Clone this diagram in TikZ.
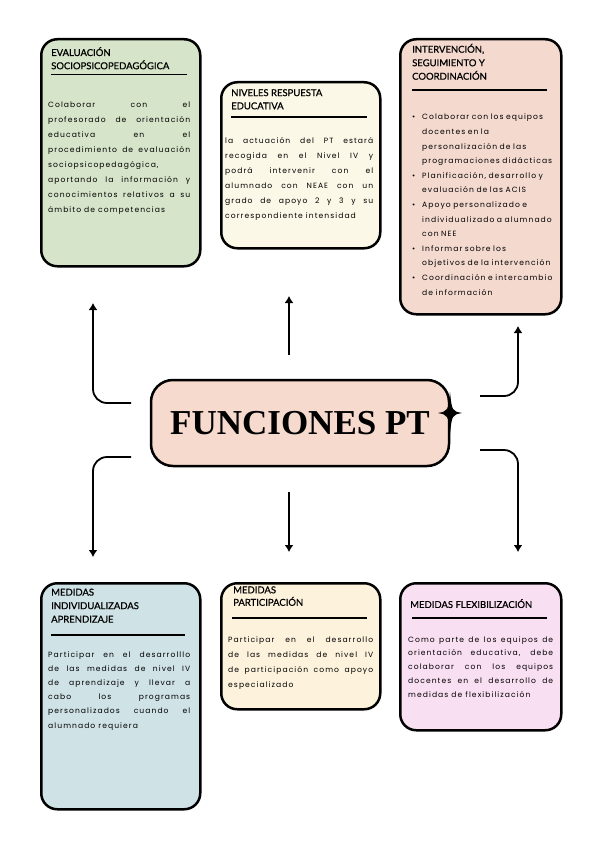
\documentclass[tikz,border=0pt]{standalone}
\usepackage{fontspec}
\setmainfont{Lato}[FakeBold=0.7]
\newfontfamily\handfont{Poppins}[LetterSpace=14]
\newfontfamily\bigserif{Liberation Serif}
\usetikzlibrary{
  calc,
  positioning,
  arrows.meta
}
\definecolor{boxgreen}{HTML}{D6E4C9}
\definecolor{boxcream}{HTML}{FCF8E7}
\definecolor{boxpeach}{HTML}{F4D9CF}
\definecolor{boxblue}{HTML}{CFE2E6}
\definecolor{boxsand}{HTML}{FDF3DC}
\definecolor{boxpink}{HTML}{F9DFF2}
\definecolor{centrepeach}{HTML}{F6DACD}
\newcommand\pitem[1]{\par\noindent\hangindent=10pt\hangafter=1\makebox[10pt][l]{\strut\textbullet}#1\par}

\begin{document}
\begin{tikzpicture}[x=1pt,y=-1pt]
  \tikzset{
    card/.style={draw=black, line width=2.5pt, rounded corners=16pt,
      anchor=north west, inner sep=0pt},
    cardtitle/.style={anchor=north west, inner sep=0pt, align=left,
      font=\fontsize{9.5}{13.2}\selectfont, execute at begin node=\strut},
    cardtext/.style={anchor=north west, inner sep=0pt, align=justify,
      font=\handfont\fontsize{7.6}{15}\selectfont, execute at begin node=\strut},
    cardrule/.style={line width=1.3pt},
    conn/.style={line width=1.8pt, rounded corners=14pt,
      -{Latex[length=7pt,width=9pt]}},
  }
  \fill[white] (0,0) rectangle (600,848);
  \useasboundingbox (0,0) rectangle (600,848);

  % centre
  \node[card, fill=centrepeach, rounded corners=22pt, anchor=center,
    minimum width=298pt, minimum height=86pt,
    font=\bigserif\bfseries\fontsize{35}{38}\selectfont] (ctr) at (300,423) {FUNCIONES PT};
  \coordinate (spark) at (450,413);
  \fill ($(spark)+(-12,0)$) .. controls ($(spark)+(-2,-2)$) .. ($(spark)+(0,-21)$)
    .. controls ($(spark)+(2,-2)$) .. ($(spark)+(12,0)$)
    .. controls ($(spark)+(2,2)$) .. ($(spark)+(0,21)$)
    .. controls ($(spark)+(-2,2)$) .. ($(spark)+(-12,0)$) -- cycle;

  % top row
  \node[card, fill=boxgreen, minimum width=159pt, minimum height=227pt] (eval) at (40,38) {};
  \node[cardtitle] (evaltitle) at ($(eval.north west)+(11,9)$) {EVALUACIÓN\\SOCIOPSICOPEDAGÓGICA};
  \draw[cardrule] ($(eval.north west)+(11,36.5)$) -- ++(136,0);
  \node[cardtext, text width=142pt] (evaltext) at ($(eval.north west)+(8,58.5)$)
    {Colaborar con el\linebreak profesorado de orientación\linebreak educativa en el\linebreak
     procedimiento de evaluación\linebreak sociopsicopedagógica,\linebreak
     aportando la información y\linebreak conocimientos relativos a su\linebreak ámbito de competencias};

  \node[card, fill=boxcream, minimum width=159pt, minimum height=166pt] (niv) at (220,81) {};
  \node[cardtitle] (nivtitle) at ($(niv.north west)+(11,8)$) {NIVELES RESPUESTA\\EDUCATIVA};
  \draw[cardrule] ($(niv.north west)+(11,36)$) -- ++(136,0);
  \node[cardtext, text width=148pt] (nivtext) at ($(niv.north west)+(5,51.5)$)
    {la actuación del PT estará\linebreak recogida en el Nivel IV y\linebreak
     podrá intervenir con el\linebreak alumnado con NEAE con un\linebreak
     grado de apoyo 2 y 3 y su\linebreak correspondiente intensidad};

  \node[card, fill=boxpeach, minimum width=161pt, minimum height=275pt] (coord) at (399,38) {};
  \node[cardtitle, font=\fontsize{9.5}{13.5}\selectfont] (coordtitle) at ($(coord.north west)+(13,5.7)$)
    {INTERVENCIÓN,\\SEGUIMIENTO Y\\COORDINACIÓN};
  \draw[cardrule] ($(coord.north west)+(13,52)$) -- ++(135,0);
  \node[cardtext, align=left, text width=146pt, execute at begin node={},
    font=\handfont\fontsize{7.6}{14.6}\selectfont] (coordtext) at ($(coord.north west)+(13,56.8)$)
    {\pitem{Colaborar con los equipos\newline docentes en la\newline personalización de las\newline programaciones didácticas}
     \pitem{Planificación, desarrollo y\newline evaluación de las ACIS}
     \pitem{Apoyo personalizado e\newline individualizado a alumnado\newline con NEE}
     \pitem{Informar sobre los\newline objetivos de la intervención}
     \pitem{Coordinación e intercambio\newline de información}};

  % bottom row
  \node[card, fill=boxblue, minimum width=159pt, minimum height=226pt] (indiv) at (40,582) {};
  \node[cardtitle, font=\fontsize{9.5}{13.5}\selectfont] (indivtitle) at ($(indiv.north west)+(11,6.5)$)
    {MEDIDAS\\INDIVIDUALIZADAS\\APRENDIZAJE};
  \draw[cardrule] ($(indiv.north west)+(11,53)$) -- ++(134,0);
  \node[cardtext, text width=142pt, font=\handfont\fontsize{7.6}{14.2}\selectfont] (indivtext)
    at ($(indiv.north west)+(8,65)$)
    {Participar en el desarrolllo\linebreak de las medidas de nivel IV\linebreak
     de aprendizaje y llevar a\linebreak cabo los programas\linebreak
     personalizados cuando el\linebreak alumnado requiera};

  \node[card, fill=boxsand, minimum width=159pt, minimum height=126pt] (part) at (220,582) {};
  \node[cardtitle, font=\fontsize{9.5}{12.5}\selectfont] (parttitle) at ($(part.north west)+(13,4.2)$)
    {MEDIDAS\\PARTICIPACIÓN};
  \draw[cardrule] ($(part.north west)+(12,36)$) -- ++(135,0);
  \node[cardtext, text width=145pt] (parttext) at ($(part.north west)+(8,49.5)$)
    {Participar en el desarrollo\linebreak de las medidas de nivel IV\linebreak
     de participación como apoyo\linebreak especializado};

  \node[card, fill=boxpink, minimum width=161pt, minimum height=147pt] (flex) at (399,582) {};
  \node[cardtitle] (flextitle) at ($(flex.north west)+(11,16.5)$) {MEDIDAS FLEXIBILIZACIÓN};
  \draw[cardrule] ($(flex.north west)+(13,36)$) -- ++(135,0);
  \node[cardtext, text width=145pt, font=\handfont\fontsize{7.6}{13.8}\selectfont] (flextext)
    at ($(flex.north west)+(9,50.3)$)
    {Como parte de los equipos de\linebreak orientación educativa, debe\linebreak
     colaborar con los equipos\linebreak docentes en el desarrollo de\linebreak
     medidas de flexibilización};

  % connectors
  \coordinate (tlstart) at (131,403);
  \coordinate (tlend) at (93,303);
  \coordinate (tmstart) at (289,355);
  \coordinate (tmend) at (289,296);
  \coordinate (trstart) at (480,396);
  \coordinate (trend) at (518,326);
  \coordinate (blstart) at (131,457);
  \coordinate (blend) at (93,557);
  \coordinate (bmstart) at (289,492);
  \coordinate (bmend) at (289,552);
  \coordinate (brstart) at (480,450);
  \coordinate (brend) at (518,552);

  \draw[conn] (tlstart) -| (tlend);
  \draw[conn] (tmstart) -- (tmend);
  \draw[conn] (trstart) -| (trend);
  \draw[conn] (blstart) -| (blend);
  \draw[conn] (bmstart) -- (bmend);
  \draw[conn] (brstart) -| (brend);
\end{tikzpicture}
\end{document}
